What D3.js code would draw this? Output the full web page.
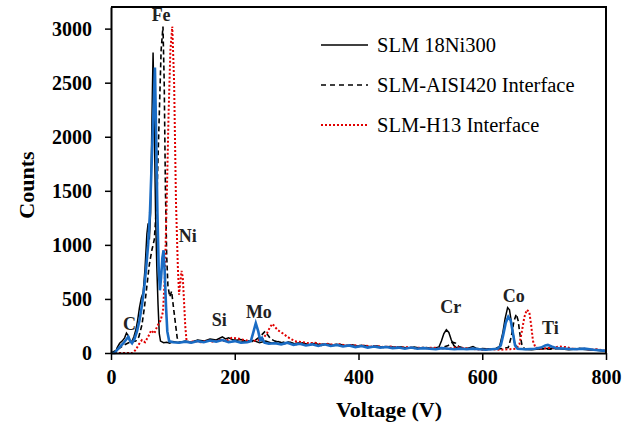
<!DOCTYPE html>
<html>
<head>
<meta charset="utf-8">
<script src="https://cdn.jsdelivr.net/npm/d3@7"></script>
<style>
  body { margin: 0; background: #fff; }
  text { font-family: "Liberation Serif", "Times New Roman", serif; }
</style>
</head>
<body>
<div id="chart"></div>
<script>
// EDS spectra, [voltage, counts]
var ni300 = [[0,0],[7,0],[10,50],[14,90],[18,110],[22,140],[25,185],[28,160],[31,100],[34,110],[37,150],[40,210],[43,300],[46,420],[49,510],[52,560],[55,780],[58,1100],[60,1200],[62,1050],[64,1300],[66,2100],[68,2780],[70,2100],[72,1300],[74,800],[76,450],[78,180],[80,110],[85,95],[90,100],[95,90],[100,105],[110,95],[120,110],[130,100],[140,120],[150,110],[160,130],[170,120],[180,150],[185,130],[190,140],[200,115],[210,125],[220,105],[230,115],[240,95],[250,110],[260,90],[270,105],[280,85],[290,100],[300,80],[310,95],[320,75],[330,90],[340,70],[350,85],[360,70],[370,80],[380,65],[390,75],[400,60],[410,70],[420,55],[430,65],[440,50],[450,60],[460,50],[470,55],[480,45],[490,55],[500,45],[510,50],[520,40],[530,55],[534,110],[538,180],[542,215],[546,190],[550,120],[554,70],[558,50],[565,45],[575,40],[585,60],[590,45],[600,35],[610,40],[620,35],[628,60],[633,180],[637,320],[641,420],[644,400],[648,250],[652,100],[656,45],[665,35],[680,30],[695,40],[710,45],[725,40],[740,30],[755,40],[770,30],[785,25],[800,15]];

var aisi420 = [[0,0],[10,30],[20,70],[30,100],[40,110],[45,150],[50,260],[54,420],[58,620],[62,820],[66,950],[70,1050],[74,1400],[78,2200],[81,2800],[84,3020],[86,2500],[88,1500],[90,900],[92,620],[95,520],[98,570],[101,420],[104,280],[107,140],[110,100],[120,105],[130,95],[140,115],[150,105],[160,120],[170,110],[180,125],[190,105],[200,120],[210,100],[220,115],[230,105],[238,140],[244,170],[249,200],[253,170],[258,130],[265,110],[275,95],[285,105],[295,85],[305,95],[315,80],[325,90],[335,75],[345,85],[355,70],[365,80],[375,65],[385,75],[395,60],[405,70],[415,55],[425,65],[435,55],[445,60],[455,50],[465,55],[475,45],[485,50],[495,45],[505,50],[515,40],[525,45],[535,50],[545,70],[552,100],[557,90],[562,60],[570,45],[580,40],[590,35],[600,40],[615,35],[630,40],[642,50],[647,150],[651,290],[655,360],[658,300],[661,170],[664,80],[668,40],[680,35],[695,40],[710,35],[725,45],[740,35],[755,45],[770,35],[785,30],[800,20]];

var h13 = [[0,0],[35,0],[40,30],[45,80],[50,120],[55,100],[60,150],[65,210],[70,180],[75,250],[80,300],[84,380],[87,700],[90,1400],[93,2200],[96,2800],[99,3020],[102,2500],[105,1400],[108,800],[110,540],[112,650],[114,760],[116,700],[118,480],[120,250],[122,120],[126,100],[135,110],[145,100],[155,115],[165,105],[175,120],[185,110],[195,140],[205,135],[215,120],[225,110],[235,115],[245,130],[252,180],[257,240],[261,270],[265,240],[270,210],[278,180],[285,150],[292,125],[300,105],[310,100],[320,90],[330,95],[340,80],[350,85],[360,75],[370,80],[380,70],[390,75],[400,65],[410,70],[420,60],[430,65],[440,55],[450,60],[460,55],[470,50],[480,55],[490,45],[500,50],[510,45],[520,50],[530,45],[540,40],[550,45],[560,55],[570,45],[580,40],[590,35],[600,30],[615,35],[630,30],[645,35],[655,40],[660,80],[664,200],[668,330],[672,400],[676,380],[679,260],[682,110],[686,50],[695,40],[705,45],[715,50],[725,60],[735,55],[745,40],[755,35],[765,40],[775,30],[785,35],[800,20]];

var blueSpec = [[0,0],[6,0],[10,30],[15,60],[20,90],[24,120],[28,150],[31,110],[34,90],[38,130],[42,200],[46,300],[50,440],[54,620],[57,800],[60,1000],[63,1300],[66,1800],[69,2300],[71,2640],[73,2000],[75,1300],[77,800],[79,580],[81,700],[83,880],[85,950],[87,720],[89,420],[91,200],[94,110],[100,100],[110,95],[120,105],[130,95],[140,110],[150,100],[160,115],[170,105],[180,120],[190,100],[200,110],[210,95],[220,100],[226,110],[230,190],[234,275],[238,200],[241,120],[244,140],[248,95],[255,85],[265,90],[275,80],[285,95],[295,75],[305,85],[315,70],[325,80],[335,65],[345,80],[355,65],[365,75],[375,60],[385,70],[395,55],[405,65],[415,50],[425,60],[435,50],[445,55],[455,45],[465,50],[475,40],[485,50],[495,40],[505,45],[515,40],[525,35],[535,45],[545,40],[555,35],[565,40],[575,35],[585,40],[595,35],[605,30],[615,35],[625,40],[630,70],[634,170],[638,280],[642,335],[646,300],[650,170],[653,70],[657,40],[670,35],[685,40],[695,50],[702,70],[706,75],[712,60],[720,45],[735,40],[750,35],[765,40],[780,30],[800,20]];

var xTicks = [0, 200, 400, 600, 800];
var yTicks = [0, 500, 1000, 1500, 2000, 2500, 3000];
var legendNames = ["SLM 18Ni300", "SLM-AISI420 Interface", "SLM-H13 Interface"];
var elemNames = ["Fe", "Ni", "C", "Si", "Mo", "Cr", "Co", "Ti"];
var elemV = [81, 124, 30, 175, 239, 549, 651, 710];
var elemC = [3067, 1029, 213, 250, 324, 371, 472, 176];

var W = 637, H = 423;
var m = {top: 7, right: 31, bottom: 70, left: 111};

var svg = d3.select("#chart").append("svg")
    .attr("width", W)
    .attr("height", H);

var x = d3.scaleLinear().domain([0, 800]).range([m.left, W - m.right]);
var y = d3.scaleLinear().domain([0, 3200]).range([H - m.bottom, m.top]);

var line = d3.line()
    .x(function(d){ return x(d[0]); })
    .y(function(d){ return y(d[1]); });

var plot = svg.append("g");

plot.append("path").datum(ni300)
    .attr("d", line).attr("fill", "none")
    .attr("stroke", "#000").attr("stroke-width", 1.5);

plot.append("path").datum(aisi420)
    .attr("d", line).attr("fill", "none")
    .attr("stroke", "#000").attr("stroke-width", 1.6)
    .attr("stroke-dasharray", "5,3");

plot.append("path").datum(h13)
    .attr("d", line).attr("fill", "none")
    .attr("stroke", "#e00000").attr("stroke-width", 2)
    .attr("stroke-dasharray", "2,2");

plot.append("path").datum(blueSpec)
    .attr("d", line).attr("fill", "none")
    .attr("stroke", "#1a6cc4").attr("stroke-width", 2.6);

// frame top + right
svg.append("path")
    .attr("d", "M" + x(0) + "," + y(3200) + "H" + x(800) + "V" + y(0))
    .attr("fill", "none").attr("stroke", "#000").attr("stroke-width", 2);

var xAxis = svg.append("g")
    .attr("transform", "translate(0," + y(0) + ")")
    .call(d3.axisBottom(x).tickValues(xTicks).tickFormat(d3.format("d"))
      .tickSize(7).tickPadding(10).tickSizeOuter(0));

var yAxis = svg.append("g")
    .attr("transform", "translate(" + x(0) + ",0)")
    .call(d3.axisLeft(y).tickValues(yTicks).tickFormat(d3.format("d"))
      .tickSize(6).tickPadding(13).tickSizeOuter(0));

[xAxis, yAxis].forEach(function(a){
  a.select(".domain").attr("stroke-width", 2);
  a.selectAll(".tick line").attr("stroke-width", 1.5);
  a.selectAll("text")
    .attr("font-family", "Liberation Serif")
    .attr("font-weight", "bold")
    .attr("font-size", "20px")
    .attr("fill", "#000");
});

svg.append("text").text("Voltage (V)")
    .attr("x", 389).attr("y", 417)
    .attr("text-anchor", "middle")
    .attr("font-weight", "bold").attr("font-size", "22px");

svg.append("text").text("Counts")
    .attr("transform", "translate(34,185) rotate(-90)")
    .attr("text-anchor", "middle")
    .attr("font-weight", "bold").attr("font-size", "22px");

// element labels
svg.selectAll("text.elem")
    .data(elemNames)
    .enter().append("text")
    .attr("class", "elem")
    .attr("x", function(d, i){ return x(elemV[i]); })
    .attr("y", function(d, i){ return y(elemC[i]); })
    .attr("text-anchor", "middle")
    .attr("font-weight", "bold")
    .attr("font-size", "18px")
    .attr("fill", "#222")
    .text(function(d){ return d; });

// legend
var lg = svg.append("g");
var lgStyle = [
  {stroke: "#000", dash: null, w: 1.5},
  {stroke: "#000", dash: "5,4", w: 1.6},
  {stroke: "#e00000", dash: "2,2", w: 2}
];
legendNames.forEach(function(name, i){
  var yy = 45 + i * 40;
  lg.append("line")
    .attr("x1", 321).attr("x2", 368)
    .attr("y1", yy).attr("y2", yy)
    .attr("stroke", lgStyle[i].stroke)
    .attr("stroke-width", lgStyle[i].w)
    .attr("stroke-dasharray", lgStyle[i].dash);
  lg.append("text").text(name)
    .attr("x", 377).attr("y", yy + 7)
    .attr("font-size", "20.5px")
    .attr("fill", "#000");
});
</script>
</body>
</html>
